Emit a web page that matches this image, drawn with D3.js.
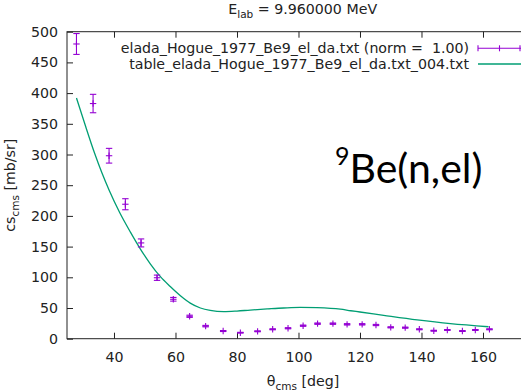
<!DOCTYPE html>
<html>
<head>
<meta charset="utf-8">
<script src="https://cdn.jsdelivr.net/npm/d3@7"></script>
<style>
  html, body { margin: 0; padding: 0; background: #fff; }
  svg { display: block; }
  text { font-family: "DejaVu Sans", sans-serif; fill: #222; white-space: pre; }
</style>
</head>
<body>
<svg id="chart" width="521" height="392"></svg>
<script>
// Measured elastic cross sections (Hogue 1977), 9Be(n,el), E = 9.96 MeV
const expAngles = [27.8, 33.2, 38.4, 43.7, 48.8, 54.0, 59.3, 64.6, 69.8, 75.5, 81.1, 86.7, 91.6, 96.6,
                   101.5, 106.2, 111.2, 115.8, 120.7, 125.2, 130.0, 134.7, 139.3, 144.0, 148.4, 153.3, 157.5, 162.1];
const expValues = [480, 383, 298, 219, 156, 99.3, 64.2, 36.5, 20.5, 12.5, 9.8, 12, 15.3, 17,
                   21.2, 24.5, 24.5, 23.4, 23.4, 22.3, 18.5, 18, 15.3, 13, 14.2, 12.5, 14.2, 15.3];
const expErrors = [17, 15, 12, 9, 6.5, 4.3, 3, 1.8, 1.2, 0.8, 0.6, 0.7, 0.8, 0.9,
                   1.0, 1.1, 1.1, 1.1, 1.1, 1.0, 0.9, 0.9, 0.8, 0.7, 0.7, 0.7, 0.7, 0.8];

// Calculated table
const calcAngles = [27.8, 30.5, 33.7, 36.0, 38.5, 41.8, 45.3, 48.6, 51.8, 55.1, 58.3, 61.6, 64.8, 68.1,
                    71.3, 75.7, 80, 84.3, 90, 95.2, 100.6, 106, 113.6, 117, 120, 127.7, 138.6, 149.4, 161.8];
const calcValues = [392, 350, 302, 271, 241, 206, 174, 146, 122, 101, 85, 70, 58, 50,
                    46, 44, 45, 46.7, 48.5, 50, 51, 50.5, 48, 45.5, 43.5, 38, 30.5, 24.4, 19.5];

const xTicks = [40, 60, 80, 100, 120, 140, 160];
const yTicks = [0, 50, 100, 150, 200, 250, 300, 350, 400, 450, 500];

const legendExp = "elada_Hogue_1977_Be9_el_da.txt (norm =  1.00)";
const legendCalc = "table_elada_Hogue_1977_Be9_el_da.txt_004.txt";

const purple = "#9400d3";
const green = "#009e73";
const fs = "14.2px", fsSub = "10.5px";

const svg = d3.select("#chart");
const plot = { left: 67, right: 538.5, top: 31.7, bottom: 338.7 };

const x = d3.scaleLinear().domain([24.72, 178.05]).range([plot.left, plot.right]);
const y = d3.scaleLinear().domain([0, 500]).range([plot.bottom, plot.top]);

const ink = "#222";

// frame
svg.append("rect")
  .attr("x", plot.left).attr("y", plot.top)
  .attr("width", plot.right - plot.left).attr("height", plot.bottom - plot.top)
  .attr("fill", "none").attr("stroke", ink).attr("stroke-width", 1);

// axes with inward ticks
const xAxisB = d3.axisBottom(x).tickValues(xTicks).tickSizeInner(-6).tickSizeOuter(0).tickPadding(13);
const gxb = svg.append("g").attr("transform", `translate(0,${plot.bottom})`).call(xAxisB);
const xAxisT = d3.axisTop(x).tickValues(xTicks).tickSizeInner(-6).tickSizeOuter(0).tickFormat("");
const gxt = svg.append("g").attr("transform", `translate(0,${plot.top})`).call(xAxisT);
const yAxisL = d3.axisLeft(y).tickValues(yTicks).tickSizeInner(-6).tickSizeOuter(0).tickPadding(9);
const gyl = svg.append("g").attr("transform", `translate(${plot.left},0)`).call(yAxisL);

[gxb, gxt, gyl].forEach(g => {
  g.select(".domain").remove();
  g.selectAll(".tick line").attr("stroke", ink);
  g.selectAll(".tick text").attr("fill", ink).style("font-family", "DejaVu Sans").style("font-size", fs);
});

// calculated curve
const line = d3.line().x((d, i) => x(calcAngles[i])).y(d => y(d)).curve(d3.curveMonotoneX);
svg.append("path").datum(calcValues)
  .attr("d", line).attr("fill", "none").attr("stroke", green).attr("stroke-width", 1.3);

// experimental points with error bars
const cap = 3.2, mark = 3.2;
const pts = svg.append("g").attr("stroke", purple).attr("stroke-width", 1.1);
expValues.forEach((v, i) => {
  const cx = x(expAngles[i]);
  const lo = y(v - expErrors[i]), hi = y(v + expErrors[i]), cy = y(v);
  pts.append("line").attr("x1", cx).attr("x2", cx).attr("y1", lo).attr("y2", hi);
  pts.append("line").attr("x1", cx - cap).attr("x2", cx + cap).attr("y1", lo).attr("y2", lo);
  pts.append("line").attr("x1", cx - cap).attr("x2", cx + cap).attr("y1", hi).attr("y2", hi);
  pts.append("line").attr("x1", cx - mark).attr("x2", cx + mark).attr("y1", cy).attr("y2", cy);
  pts.append("line").attr("x1", cx).attr("x2", cx).attr("y1", cy - mark).attr("y2", cy + mark);
});

// legend
const legY1 = 48.3, legY2 = 64, legTextX = 469, legX1 = 478, legX2 = 521;
svg.append("text").attr("x", legTextX).attr("y", legY1 + 5).attr("text-anchor", "end")
  .style("font-size", fs).text(legendExp);
svg.append("text").attr("x", legTextX).attr("y", legY2 + 5).attr("text-anchor", "end")
  .style("font-size", fs).text(legendCalc);
const lg = svg.append("g").attr("stroke", purple).attr("stroke-width", 1.1);
lg.append("line").attr("x1", legX1).attr("x2", legX2).attr("y1", legY1).attr("y2", legY1);
[legX1, (legX1 + legX2) / 2, legX2 - 1].forEach(px => {
  lg.append("line").attr("x1", px).attr("x2", px).attr("y1", legY1 - 3).attr("y2", legY1 + 3);
});
svg.append("line").attr("x1", legX1).attr("x2", legX2).attr("y1", legY2).attr("y2", legY2)
  .attr("stroke", green).attr("stroke-width", 1.3);

// title
const title = svg.append("text").attr("x", 302.7).attr("y", 14).attr("text-anchor", "middle")
  .style("font-size", fs);
title.append("tspan").text("E");
title.append("tspan").attr("dy", 3.5).style("font-size", fsSub).text("lab");
title.append("tspan").attr("dy", -3.5).text(" = 9.960000 MeV");

// axis labels
const xl = svg.append("text").attr("x", 303).attr("y", 386).attr("text-anchor", "middle")
  .style("font-size", fs);
xl.append("tspan").text("θ");
xl.append("tspan").attr("dy", 3.5).style("font-size", fsSub).text("cms");
xl.append("tspan").attr("dy", -3.5).text(" [deg]");

const yl = svg.append("text").attr("transform", `translate(15,${(plot.top + plot.bottom) / 2}) rotate(-90)`)
  .attr("text-anchor", "middle").style("font-size", fs);
yl.append("tspan").text("cs");
yl.append("tspan").attr("dy", 3.5).style("font-size", fsSub).text("cms");
yl.append("tspan").attr("dy", -3.5).text(" [mb/sr]");

// reaction label
const rl = svg.append("text").attr("x", 335).attr("y", 183.3)
  .style("font-family", "Lato, 'Open Sans', sans-serif").style("font-size", "41px").style("fill", "#000");
rl.append("tspan").attr("dy", -18).style("font-size", "25px").text("9");
rl.append("tspan").attr("dy", 18).text("Be(n,el)");
</script>
</body>
</html>
